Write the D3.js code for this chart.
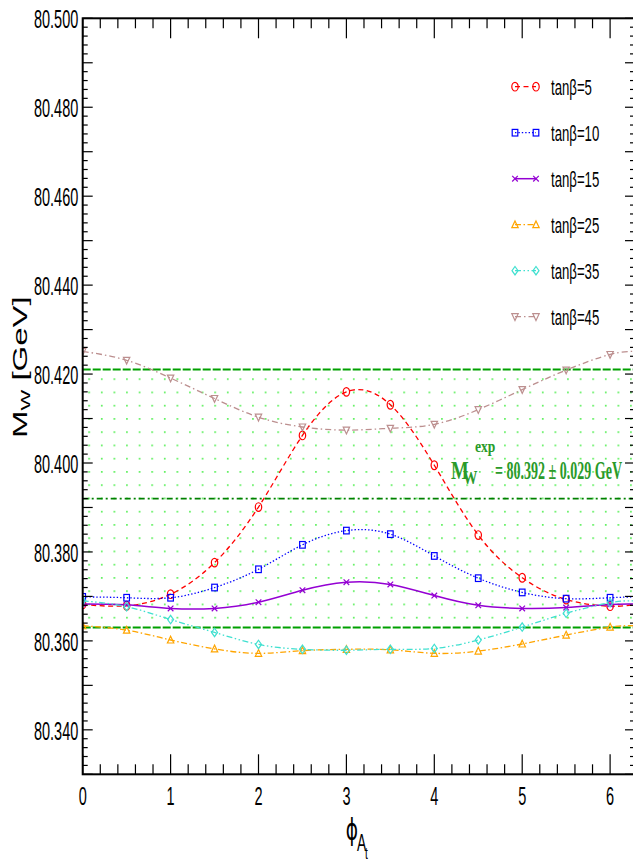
<!DOCTYPE html>
<html>
<head>
<meta charset="utf-8">
<script src="https://cdn.jsdelivr.net/npm/d3@7"></script>
<style>
  html, body { margin: 0; padding: 0; background: #fff; overflow: hidden; }
  svg { display: block; }
</style>
</head>
<body>
<svg id="chart" width="633" height="863"></svg>
<script>
// ---- data -------------------------------------------------------------
// phase of A_t where the W mass was evaluated
const phiPoints = [0, 0.5, 1, 1.5, 2, 2.5, 3, 3.5, 4, 4.5, 5, 5.5, 6];
const phiEnd = 2 * Math.PI;            // curves run on to 2π (periodic)

const tanBeta = [5, 10, 15, 25, 35, 45];

// M_W [GeV] at each phiPoints entry, last value is the curve at phi = 2π
const mwTb5  = [80.3682, 80.3679, 80.3705, 80.3776, 80.3901, 80.4062, 80.4160, 80.4131, 80.3995, 80.3838, 80.3742, 80.3693, 80.3678, 80.3682];
const mwTb10 = [80.3699, 80.3697, 80.3697, 80.3720, 80.3761, 80.3816, 80.3848, 80.3840, 80.3791, 80.3741, 80.3709, 80.3695, 80.3697, 80.3699];
const mwTb15 = [80.3683, 80.3681, 80.3673, 80.3673, 80.3687, 80.3714, 80.3732, 80.3727, 80.3702, 80.3680, 80.3673, 80.3675, 80.3682, 80.3683];
const mwTb25 = [80.3634, 80.3624, 80.3602, 80.3582, 80.3572, 80.3578, 80.3581, 80.3580, 80.3572, 80.3577, 80.3593, 80.3613, 80.3631, 80.3634];
const mwTb35 = [80.3690, 80.3677, 80.3648, 80.3619, 80.3592, 80.3581, 80.3579, 80.3581, 80.3583, 80.3602, 80.3631, 80.3662, 80.3686, 80.3690];
const mwTb45 = [80.4251, 80.4231, 80.4191, 80.4145, 80.4103, 80.4081, 80.4074, 80.4078, 80.4087, 80.4120, 80.4165, 80.4209, 80.4244, 80.4251];

// experimental world average
const mwExp = 80.392;
const mwErr = 0.029;

// axis ticks
const xTickLabels = [0, 1, 2, 3, 4, 5, 6];
const yTickLabels = [80.34, 80.36, 80.38, 80.40, 80.42, 80.44, 80.46, 80.48, 80.50];

// ---- styling ----------------------------------------------------------
const seriesValues = [mwTb5, mwTb10, mwTb15, mwTb25, mwTb35, mwTb45];
const colors  = ["#ff0000", "#0000ff", "#9400d3", "#ffa500", "#40e0d0", "#bc8f8f"];
const dashes  = ["5,3.5", "1.4,2", null, "6,2.5,1.5,2.5", "6,2.5,1.5,2.5,1.5,2.5", "6,3,1.5,3"];
const shapes  = ["circle", "square", "cross", "triUp", "diamond", "triDown"];

const L = 82.7, R = 635, T = 18.3, B = 774.3;
const svg = d3.select("#chart");

const x = d3.scaleLinear().domain([0, phiEnd]).range([L, R]);
const y = d3.scaleLinear().domain([80.33, 80.50]).range([B, T]);

const defs = svg.append("defs");
defs.append("clipPath").attr("id", "plotclip")
  .append("rect").attr("x", L).attr("y", T).attr("width", R - L).attr("height", B - T);

// dotted fill of the experimental band
const pat = defs.append("pattern").attr("id", "bandDots")
  .attr("patternUnits", "userSpaceOnUse")
  .attr("x", 88.3).attr("y", 378.3).attr("width", 12.6).attr("height", 13.25);
pat.append("rect").attr("x", 0).attr("y", 0).attr("width", 1.7).attr("height", 1.7).attr("fill", "#5cf05c");

const plot = svg.append("g").attr("clip-path", "url(#plotclip)");

// ---- experimental band -----------------------------------------------
plot.append("rect")
  .attr("x", L).attr("width", R - L)
  .attr("y", y(mwExp + mwErr)).attr("height", y(mwExp - mwErr) - y(mwExp + mwErr))
  .attr("fill", "url(#bandDots)");

[[mwExp + mwErr, "8,2", "#00a000", 2],
 [mwExp, "6,3,2,3", "#008000", 1.6],
 [mwExp - mwErr, "8,2", "#00a000", 2]].forEach(([v, d, c, w]) => {
  plot.append("line")
    .attr("x1", L).attr("x2", R).attr("y1", y(v)).attr("y2", y(v))
    .attr("stroke", c).attr("stroke-width", w).attr("stroke-dasharray", d);
});

// label of the band
const annFont = "'Liberation Serif', 'Times New Roman', serif";
const annColor = "#2a9a2a";
function annText(tx, ty, sx, size, str) {
  return svg.append("text")
    .attr("transform", `translate(${tx},${ty}) scale(${sx},1)`)
    .attr("font-family", annFont).attr("font-weight", "bold")
    .attr("font-size", size).attr("fill", annColor).text(str);
}
annText(451, 479, 0.72, 26, "M");
annText(463, 484, 0.8, 18, "W");
annText(475, 452, 0.8, 17, "exp");
annText(495, 479, 1, 26, `= ${mwExp.toFixed(3)} \u00b1 ${mwErr.toFixed(3)} GeV`)
  .attr("textLength", 127).attr("lengthAdjust", "spacingAndGlyphs");

// ---- markers ----------------------------------------------------------
function marker(g, shape, cx, cy, color) {
  const s = g.append("g").attr("transform", `translate(${cx},${cy})`)
    .attr("fill", "none").attr("stroke", color).attr("stroke-width", 1.2);
  if (shape === "circle") s.append("ellipse").attr("rx", 3.2).attr("ry", 4.3);
  else if (shape === "square") s.append("rect").attr("x", -2.8).attr("y", -3.3).attr("width", 5.6).attr("height", 6.6);
  else if (shape === "cross") s.append("path").attr("d", "M-2.8,-2.8L2.8,2.8M-2.8,2.8L2.8,-2.8");
  else if (shape === "triUp") s.append("path").attr("d", "M0,-3.8L3.2,3L-3.2,3Z");
  else if (shape === "triDown") s.append("path").attr("d", "M0,3.8L3.2,-3L-3.2,-3Z");
  else if (shape === "diamond") s.append("path").attr("d", "M0,-4.2L3,0L0,4.2L-3,0Z");
}

// ---- curves -----------------------------------------------------------
const phiCurve = phiPoints.concat([phiEnd]);
const line = d3.line().x(d => x(d[0])).y(d => y(d[1])).curve(d3.curveNatural);

seriesValues.forEach((vals, i) => {
  const pts = phiCurve.map((p, k) => [p, vals[k]]);
  plot.append("path")
    .attr("d", line(pts))
    .attr("fill", "none")
    .attr("stroke", colors[i])
    .attr("stroke-width", i === 2 ? 1.5 : 1.3)
    .attr("stroke-dasharray", dashes[i]);
  phiPoints.forEach((p, k) => marker(plot, shapes[i], x(p), y(vals[k]), colors[i]));
});

// ---- frame and ticks --------------------------------------------------
const axes = svg.append("g").attr("stroke", "#000");
axes.append("rect").attr("x", L).attr("y", T).attr("width", R - L).attr("height", B - T)
  .attr("fill", "none").attr("stroke-width", 2);

const xMinor = d3.range(0, 31).map(k => k * 0.2).filter(v => v <= phiEnd);
xMinor.forEach(v => {
  const major = Math.abs(v - Math.round(v)) < 1e-6;
  const len = major ? 20 : 10;
  axes.append("line").attr("x1", x(v)).attr("x2", x(v)).attr("y1", B).attr("y2", B - len).attr("stroke-width", 1.2);
  axes.append("line").attr("x1", x(v)).attr("x2", x(v)).attr("y1", T).attr("y2", T + len).attr("stroke-width", 1.2);
});

const yMinor = d3.range(0, 86).map(k => 80.33 + k * 0.002).filter(v => v <= 80.5 + 1e-9);
yMinor.forEach(v => {
  const major = Math.abs(v * 100 - Math.round(v * 100)) < 1e-4;
  const len = major ? 10 : 5;
  axes.append("line").attr("y1", y(v)).attr("y2", y(v)).attr("x1", L).attr("x2", L + len).attr("stroke-width", 1.2);
  axes.append("line").attr("y1", y(v)).attr("y2", y(v)).attr("x1", R).attr("x2", R - len).attr("stroke-width", 1.2);
});

const tickFont = "'Liberation Sans', Arial, sans-serif";
yTickLabels.forEach(v => {
  svg.append("text")
    .attr("transform", `translate(78.3,${y(v) + 10}) scale(0.58,1)`)
    .attr("text-anchor", "end")
    .attr("font-family", tickFont).attr("font-size", 25)
    .text(d3.format(".3f")(v));
});
xTickLabels.forEach(v => {
  svg.append("text")
    .attr("transform", `translate(${x(v)},805) scale(0.58,1)`)
    .attr("text-anchor", "middle")
    .attr("font-family", tickFont).attr("font-size", 25)
    .text(v);
});

// ---- axis titles ------------------------------------------------------
const yTitle = svg.append("text")
  .attr("transform", "translate(27,438) rotate(-90) scale(1,0.6)")
  .attr("font-family", "'Liberation Sans', Arial, sans-serif")
  .attr("font-size", 33);
yTitle.append("tspan").text("M");
yTitle.append("tspan").attr("font-size", 22).attr("dy", 5).text("W");
yTitle.append("tspan").attr("dy", -5).text(" [GeV]");

svg.append("text")
  .attr("transform", "translate(352,840) scale(0.6,1)")
  .attr("text-anchor", "middle")
  .attr("font-family", "'DejaVu Sans', sans-serif").attr("font-size", 31)
  .text("\u03d5");
svg.append("text")
  .attr("transform", "translate(357,851) scale(0.6,1)")
  .attr("font-family", "'Liberation Sans', Arial, sans-serif").attr("font-size", 23)
  .text("A");
svg.append("text")
  .attr("transform", "translate(365,859) scale(0.6,1)")
  .attr("font-family", "'Liberation Sans', Arial, sans-serif").attr("font-size", 17)
  .text("t");

// ---- legend -----------------------------------------------------------
const legend = svg.append("g");
tanBeta.forEach((tb, i) => {
  const ly = 86.7 + i * 46;
  legend.append("line").attr("x1", 515).attr("x2", 536).attr("y1", ly).attr("y2", ly)
    .attr("stroke", colors[i]).attr("stroke-width", i === 2 ? 1.5 : 1.3)
    .attr("stroke-dasharray", dashes[i]);
  marker(legend, shapes[i], 515, ly, colors[i]);
  marker(legend, shapes[i], 536, ly, colors[i]);
  legend.append("text")
    .attr("transform", `translate(551,${ly + 8}) scale(0.6,1)`)
    .attr("font-family", tickFont).attr("font-size", 22)
    .text(`tan\u03b2=${tb}`);
});
</script>
</body>
</html>
